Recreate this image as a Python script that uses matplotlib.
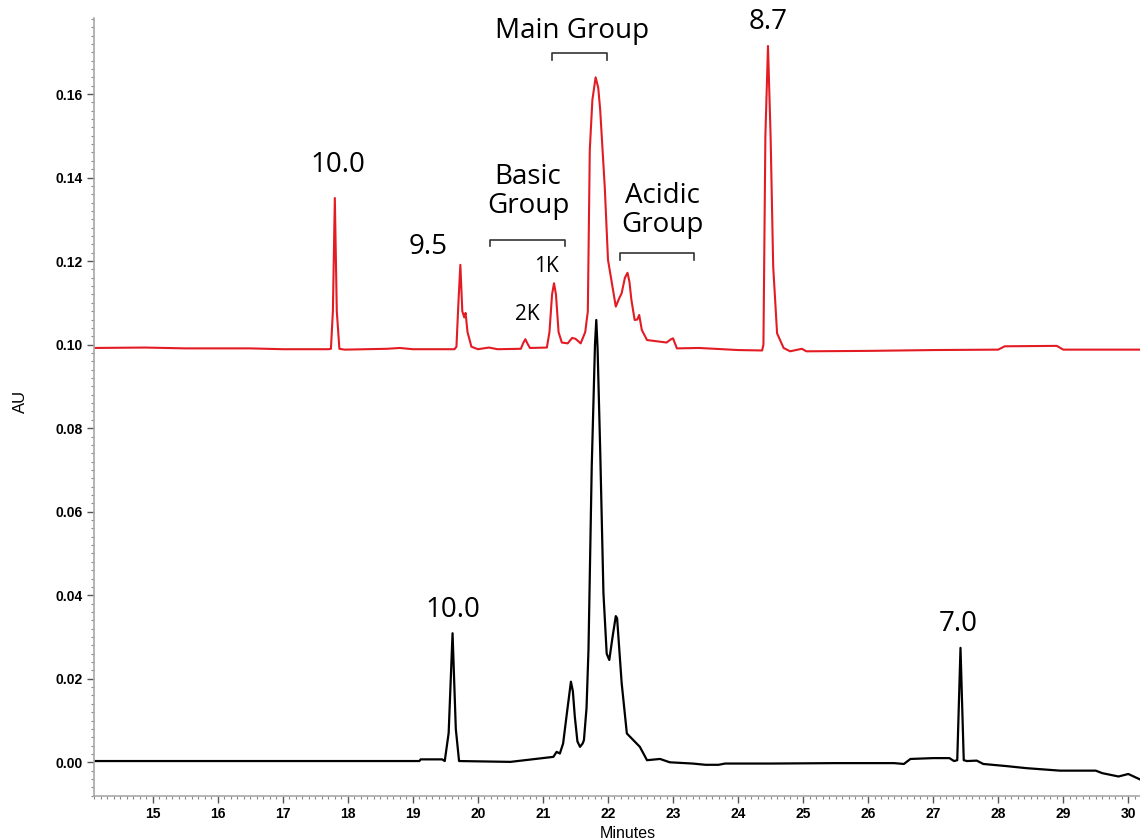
import matplotlib
matplotlib.use("Agg")
import matplotlib.pyplot as plt
from matplotlib.ticker import MultipleLocator, FormatStrFormatter

plt.rcParams['font.family'] = ['Liberation Sans', 'DejaVu Sans']

# red trace (upper run) - minutes / AU
red_t = [14.10, 14.88, 15.50, 16.50, 17.00, 17.70, 17.74, 17.77, 17.80, 17.83,
         17.87, 17.95, 18.60, 18.80, 19.00, 19.64, 19.67, 19.70, 19.73, 19.76,
         19.79, 19.81, 19.84, 19.90, 20.00, 20.17, 20.30, 20.66, 20.70, 20.73,
         20.76, 20.80, 21.06, 21.10, 21.14, 21.17, 21.20, 21.24, 21.29, 21.38,
         21.45, 21.50, 21.58, 21.65, 21.69, 21.72, 21.76, 21.81, 21.85, 21.88,
         21.95, 22.00, 22.06, 22.12, 22.17, 22.21, 22.26, 22.30, 22.33, 22.36,
         22.41, 22.45, 22.48, 22.52, 22.60, 22.80, 22.90, 22.97, 23.00, 23.06,
         23.40, 24.00, 24.37, 24.39, 24.42, 24.46, 24.50, 24.54, 24.60, 24.70,
         24.80, 24.98, 25.05, 26.00, 27.00, 28.00, 28.10, 28.90, 29.00, 30.18]
red_au = [0.0992, 0.0993, 0.0991, 0.0991, 0.0989, 0.0989, 0.0990, 0.1080, 0.1351, 0.1080,
          0.0990, 0.0988, 0.0990, 0.0992, 0.0989, 0.0989, 0.0995, 0.1100, 0.1191, 0.1080,
          0.1065, 0.1076, 0.1030, 0.0995, 0.0989, 0.0993, 0.0989, 0.0990, 0.1005, 0.1013,
          0.1003, 0.0992, 0.0993, 0.1030, 0.1120, 0.1147, 0.1120, 0.1030, 0.1005, 0.1003,
          0.1016, 0.1014, 0.1003, 0.1030, 0.1080, 0.1466, 0.1586, 0.1640, 0.1615, 0.1562,
          0.1378, 0.1203, 0.1147, 0.1091, 0.1110, 0.1123, 0.1160, 0.1172, 0.1150, 0.1107,
          0.1059, 0.1060, 0.1071, 0.1035, 0.1011, 0.1007, 0.1005, 0.1013, 0.1015, 0.0991,
          0.0992, 0.0987, 0.0986, 0.1000, 0.1500, 0.1715, 0.1500, 0.1187, 0.1027, 0.0992,
          0.0984, 0.0990, 0.0984, 0.0985, 0.0987, 0.0988, 0.0996, 0.0997, 0.0988, 0.0988]

# black trace (lower run)
blk_t = [14.10, 19.10, 19.12, 19.45, 19.49, 19.55, 19.61, 19.66, 19.71, 20.50,
         21.16, 21.21, 21.26, 21.31, 21.37, 21.43, 21.46, 21.49, 21.53, 21.57,
         21.61, 21.63, 21.67, 21.70, 21.75, 21.80, 21.82, 21.84, 21.88, 21.93,
         21.98, 22.02, 22.07, 22.12, 22.14, 22.21, 22.29, 22.39, 22.49, 22.60,
         22.80, 22.95, 23.30, 23.50, 23.70, 23.80, 24.50, 25.50, 26.40, 26.55,
         26.65, 27.00, 27.25, 27.32, 27.37, 27.42, 27.47, 27.52, 27.67, 27.77,
         28.12, 28.43, 28.95, 29.50, 29.60, 29.85, 30.00, 30.18]
blk_au = [0.0003, 0.0003, 0.0007, 0.0007, 0.0003, 0.0070, 0.0309, 0.0080, 0.0003, 0.0001,
          0.0013, 0.0025, 0.0021, 0.0045, 0.0120, 0.0193, 0.0170, 0.0109, 0.0050, 0.0037,
          0.0045, 0.0053, 0.0130, 0.0269, 0.0708, 0.1000, 0.1059, 0.0990, 0.0748, 0.0405,
          0.0260, 0.0245, 0.0300, 0.0350, 0.0345, 0.0190, 0.0069, 0.0053, 0.0037, 0.0005,
          0.0008, 0.0000, -0.0003, -0.0006, -0.0006, -0.0003, -0.0003, -0.0002, -0.0002, -0.0004,
          0.0008, 0.0010, 0.0010, 0.0003, 0.0005, 0.0274, 0.0005, 0.0003, 0.0004, -0.0004,
          -0.0009, -0.0014, -0.0020, -0.0020, -0.0026, -0.0034, -0.0028, -0.0041]

# peak labels: text, minutes, AU, size
red_labels = [("10.0", 17.85, 0.1430, 20), ("9.5", 19.23, 0.1234, 20),
              ("2K", 20.76, 0.1073, 15), ("1K", 21.05, 0.1188, 15),
              ("8.7", 24.46, 0.1772, 20)]
blk_labels = [("10.0", 19.62, 0.0365, 20), ("7.0", 27.38, 0.0331, 20)]

# group brackets: name, text x, text y, bracket start, end, height
groups = [("Basic\nGroup", 20.77, 0.1366, 20.19, 21.34, 0.1251),
          ("Main Group", 21.45, 0.1751, 21.14, 21.98, 0.1698),
          ("Acidic\nGroup", 22.83, 0.1320, 22.19, 23.32, 0.1219)]

fig = plt.figure(figsize=(11.4, 8.4), dpi=100)
ax = fig.add_axes([94 / 1140, 44 / 840, 1046 / 1140, 778 / 840])

ax.plot(red_t, red_au, color='#e31b23', lw=1.5)
ax.plot(blk_t, blk_au, color='black', lw=1.6)

ax.set_xlim(14.097, 30.18)
ax.set_ylim(-0.00807, 0.1782)

for txt, x, y, fs in red_labels + blk_labels:
    ax.text(x, y, txt, ha='center', va='center', fontsize=fs,
            family=['Open Sans', 'DejaVu Sans'], clip_on=False)

for txt, tx, ty, x0, x1, h in groups:
    ax.text(tx, ty, txt, ha='center', va='center', fontsize=20,
            family=['Open Sans', 'DejaVu Sans'], linespacing=1.05, clip_on=False)
    ax.plot([x0, x0, x1, x1], [h - 0.0016, h, h, h - 0.0016],
            color='#333333', lw=1.2, clip_on=False)

# axes look
for s in ['top', 'right']:
    ax.spines[s].set_visible(False)
for s in ['left', 'bottom']:
    ax.spines[s].set_color('#a8a8a8')
    ax.spines[s].set_linewidth(1.2)

ax.xaxis.set_major_locator(MultipleLocator(1))
ax.xaxis.set_minor_locator(MultipleLocator(0.1))
ax.yaxis.set_major_locator(MultipleLocator(0.02))
ax.yaxis.set_minor_locator(MultipleLocator(0.002))
ax.yaxis.set_major_formatter(FormatStrFormatter('%.2f'))
ax.tick_params(which='major', length=5, width=1, color='#555555', labelsize=10, pad=3)
ax.tick_params(which='minor', length=2.5, width=0.8, color='#888888')
for lab in ax.get_xticklabels() + ax.get_yticklabels():
    lab.set_fontweight('bold')

ax.set_xlabel("Minutes", fontsize=11.5)
ax.xaxis.set_label_coords(0.51, -0.038)
ax.set_ylabel("AU", fontsize=12, va='center')
ax.yaxis.set_label_coords(-0.0707, 0.507)

fig.savefig("out.png", dpi=100)
